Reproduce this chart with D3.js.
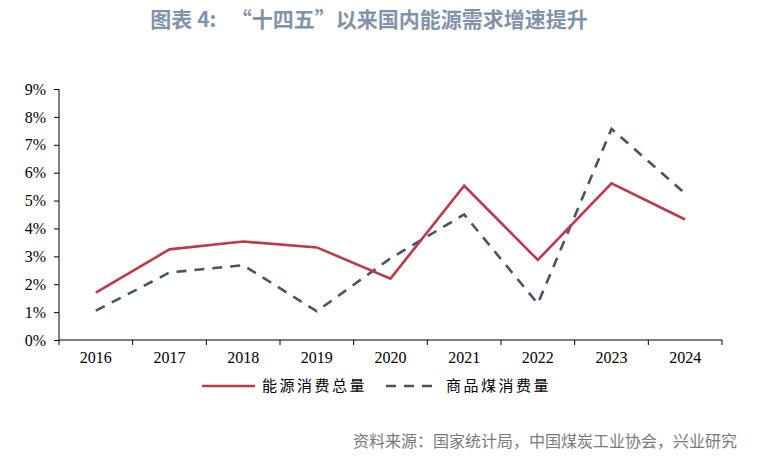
<!DOCTYPE html>
<html>
<head>
<meta charset="utf-8">
<script src="https://d3js.org/d3.v7.min.js"></script>
<style>
  body { margin: 0; background: #fff; }
  svg { display: block; }
</style>
</head>
<body>
<script>
  // data
  var years = ["2016", "2017", "2018", "2019", "2020", "2021", "2022", "2023", "2024"];
  var energyTotal = [1.7, 3.25, 3.53, 3.32, 2.2, 5.53, 2.87, 5.62, 4.32];
  var coalUse = [1.05, 2.42, 2.68, 1.03, 2.93, 4.5, 1.3, 7.57, 5.25];
  var yTicks = [0, 1, 2, 3, 4, 5, 6, 7, 8, 9];

  var W = 767, H = 460;
  var plotL = 59, plotR = 722, plotT = 89, plotB = 340;

  var svg = d3.select("body").append("svg")
      .attr("width", W)
      .attr("height", H);

  svg.append("text")
      .attr("x", 369).attr("y", 27)
      .attr("text-anchor", "middle")
      .style("font-family", "'Noto Sans CJK SC'")
      .style("font-weight", "bold")
      .style("font-size", "21px")
      .style("fill", "#8093ab")
      .style("white-space", "pre")
      .text("图表 4:   “十四五”以来国内能源需求增速提升");

  var x = d3.scaleBand().domain(years).range([plotL, plotR]);
  var y = d3.scaleLinear().domain([0, 9]).range([plotB, plotT]);

  var yAxis = svg.append("g")
      .attr("transform", "translate(" + plotL + ",0)")
      .call(d3.axisLeft(y).tickValues(yTicks).tickSize(5).tickPadding(8)
        .tickFormat(function (d) { return d + "%"; }));
  yAxis.selectAll("text")
      .style("font-family", "'Liberation Serif'")
      .style("font-size", "16px")
      .style("fill", "#000");
  yAxis.selectAll("line, path").attr("stroke", "#000");
  yAxis.select("path").attr("d", "M0," + plotT + "V" + plotB);

  var xAxis = svg.append("g")
      .attr("transform", "translate(0," + plotB + ")")
      .call(d3.axisBottom(x).tickSize(0).tickPadding(12));
  xAxis.selectAll("text")
      .style("font-family", "'Liberation Serif'")
      .style("font-size", "16px")
      .style("fill", "#000");
  xAxis.select("path").attr("stroke", "#000").attr("d", "M" + plotL + ",0H" + plotR);
  // band boundary ticks
  xAxis.selectAll(".bound")
      .data(d3.range(years.length + 1))
      .enter().append("line")
      .attr("class", "bound")
      .attr("x1", function (i) { return plotL + i * x.bandwidth(); })
      .attr("x2", function (i) { return plotL + i * x.bandwidth(); })
      .attr("y1", 0).attr("y2", 5)
      .attr("stroke", "#000");

  var line = d3.line()
      .x(function (d, i) { return x(years[i]) + x.bandwidth() / 2; })
      .y(function (d) { return y(d); });

  svg.append("path")
      .datum(coalUse)
      .attr("fill", "none")
      .attr("stroke", "#44546a")
      .attr("stroke-width", 2.6)
      .attr("stroke-dasharray", "10,8")
      .attr("d", line);

  svg.append("path")
      .datum(energyTotal)
      .attr("fill", "none")
      .attr("stroke", "#c0394b")
      .attr("stroke-width", 2.6)
      .attr("d", line);

  // legend
  var legend = [
    { name: "能源消费总量", color: "#c0394b", dash: null, x: 202 },
    { name: "商品煤消费量", color: "#44546a", dash: "10,8", x: 386 }
  ];
  var lg = svg.selectAll(".lg").data(legend).enter().append("g")
      .attr("class", "lg");
  lg.append("line")
      .attr("x1", function (d) { return d.x; })
      .attr("x2", function (d) { return d.x + 53; })
      .attr("y1", 386).attr("y2", 386)
      .attr("stroke", function (d) { return d.color; })
      .attr("stroke-width", 2.6)
      .attr("stroke-dasharray", function (d) { return d.dash; });
  lg.append("text")
      .attr("x", function (d) { return d.x + 60; })
      .attr("y", 391)
      .style("font-family", "'Noto Sans CJK SC'")
      .style("font-size", "15px")
      .style("letter-spacing", "2.5px")
      .style("fill", "#000")
      .text(function (d) { return d.name; });

  svg.append("text")
      .attr("x", 353).attr("y", 447)
      .style("font-family", "'Noto Sans CJK SC'")
      .style("font-size", "16px")
      .style("fill", "#7a7a7a")
      .text("资料来源：国家统计局，中国煤炭工业协会，兴业研究");
</script>
</body>
</html>
